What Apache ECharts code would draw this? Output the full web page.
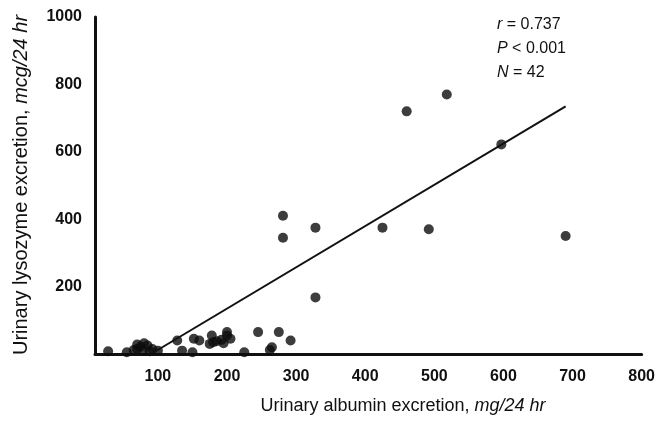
<!DOCTYPE html>
<html>
<head>
<meta charset="utf-8">
<script src="https://cdn.jsdelivr.net/npm/echarts@6/dist/echarts.min.js"></script>
<style>
  html, body { margin: 0; padding: 0; background: #fff; }
  #e_charts { width: 658px; height: 426px; }
</style>
</head>
<body>
<div id="e_charts"></div>
<script>
// urinary albumin (mg/24 hr) vs lysozyme (mcg/24 hr), one pair per patient
var albumin = [460, 518, 597, 690, 425, 492, 281, 281, 328, 328,
    28, 55, 65, 70, 75, 80, 85, 92, 78, 88,
    128, 135, 152, 150, 175, 178, 185, 195, 200, 200,
    192, 225, 245, 262, 265, 275, 292, 180, 100, 160,
    70, 205];
var lysozyme = [720, 770, 622, 350, 375, 370, 410, 345, 375, 168,
    8, 5, 12, 28, 22, 32, 25, 15, 10, 8,
    40, 10, 45, 5, 30, 55, 38, 32, 55, 65,
    42, 5, 65, 12, 20, 65, 40, 35, 10, 40,
    15, 45];

// regression line end points
var fitX = [90, 690];
var fitY = [0, 735];

var xTicks = [100, 200, 300, 400, 500, 600, 700, 800];
var statLabels = ['{i|r} = 0.737', '{i|P} < 0.001', '{i|N} = 42'];

var app = (function () {
    var font = '"Liberation Sans", Arial, sans-serif';
    var ink = '#111';

    var buildPoints = function (xs, ys) {
        var out = [];
        for (var i = 0; i < xs.length; i++) {
            out.push([xs[i], ys[i]]);
        }
        return out;
    };

    var initChart = function () {
        var myChart = echarts.init(document.getElementById('e_charts'));

        var statText = statLabels.map(function (t, i) {
            return {
                type: 'text',
                left: 497,
                top: 17 + i * 24,
                style: {
                    text: t,
                    fill: ink,
                    font: '16px ' + font,
                    rich: { i: { fontStyle: 'italic', fontSize: 16, fontFamily: font, fill: ink } }
                }
            };
        });

        var option = {
            animation: false,
            grid: { left: 95, right: 15, top: 17, bottom: 72 },
            xAxis: {
                type: 'value',
                min: 9,
                max: 800,
                splitLine: { show: false },
                axisLine: { lineStyle: { color: ink, width: 3 } },
                axisTick: { show: false },
                axisLabel: {
                    customValues: xTicks,
                    color: ink,
                    fontSize: 16,
                    fontWeight: 'bold',
                    fontFamily: font,
                    margin: 15
                }
            },
            yAxis: {
                type: 'value',
                min: 0,
                max: 1000,
                interval: 200,
                splitLine: { show: false },
                axisLine: { show: true, lineStyle: { color: ink, width: 3 } },
                axisTick: { show: false },
                axisLabel: {
                    color: ink,
                    fontSize: 16,
                    fontWeight: 'bold',
                    fontFamily: font,
                    margin: 13,
                    formatter: function (v) { return v === 0 ? '' : v; }
                }
            },
            series: [{
                type: 'scatter',
                symbolSize: 10,
                itemStyle: { color: '#0d0d0d' },
                data: buildPoints(albumin, lysozyme)
            }, {
                type: 'line',
                symbol: 'none',
                lineStyle: { color: '#111', width: 2 },
                data: buildPoints(fitX, fitY)
            }],
            graphic: statText.concat([{
                type: 'text',
                x: 21,
                y: 185,
                rotation: Math.PI / 2,
                style: {
                    text: 'Urinary lysozyme excretion, {i|mcg/24 hr}',
                    fill: ink,
                    font: '20px ' + font,
                    align: 'center',
                    verticalAlign: 'middle',
                    rich: { i: { fontStyle: 'italic', fontSize: 20, fontFamily: font, fill: ink } }
                }
            }, {
                type: 'text',
                x: 403,
                y: 406,
                style: {
                    text: 'Urinary albumin excretion, {i|mg/24 hr}',
                    fill: ink,
                    font: '18px ' + font,
                    align: 'center',
                    verticalAlign: 'middle',
                    rich: { i: { fontStyle: 'italic', fontSize: 18, fontFamily: font, fill: ink } }
                }
            }])
        };
        myChart.setOption(option);
    };

    return { init: initChart };
})();

app.init();
</script>
</body>
</html>
